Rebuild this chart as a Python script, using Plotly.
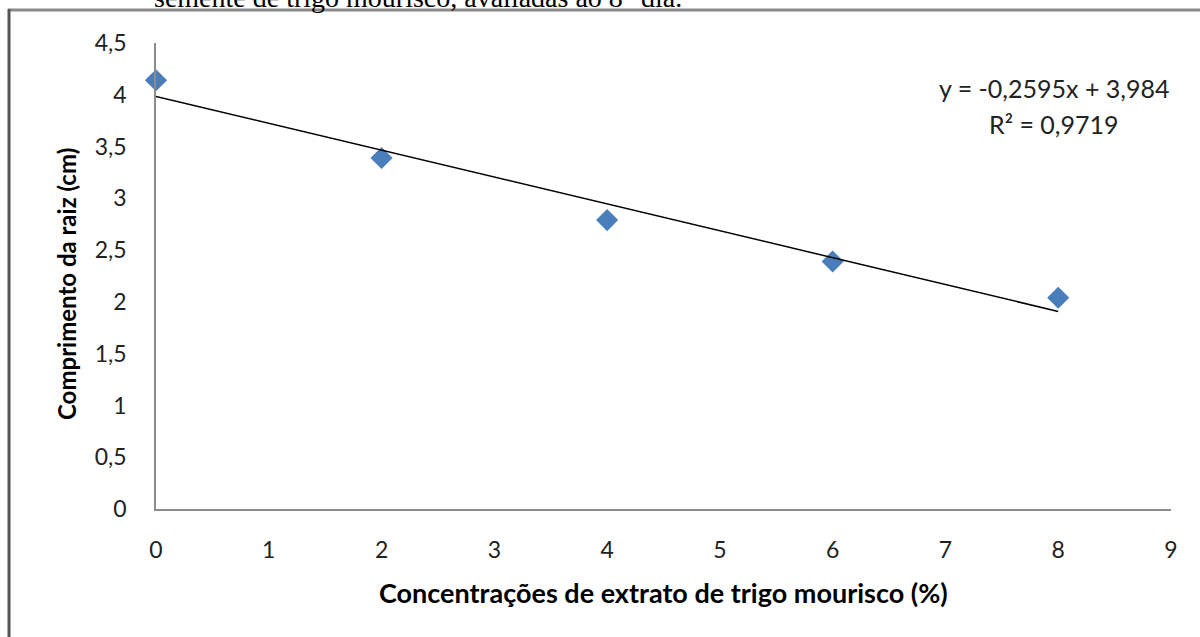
import plotly.graph_objects as go

# Root length measured at each extract concentration
concentracao = [0, 2, 4, 6, 8]
comprimento = [4.14, 3.39, 2.79, 2.39, 2.04]

# Linear fit reported for the series
inclinacao = -0.2595
intercepto = 3.984
r2 = 0.9719

x_ticks = [0, 1, 2, 3, 4, 5, 6, 7, 8, 9]
y_ticks = [0, 0.5, 1, 1.5, 2, 2.5, 3, 3.5, 4, 4.5]
y_tick_text = ["0", "0,5", "1", "1,5", "2", "2,5", "3", "3,5", "4", "4,5"]

W, H = 1200, 637
ML, MR, MT, MB = 156, 29, 43, 128
PW, PH = W - ML - MR, H - MT - MB


def px(x):
    return (x - ML) / PW


def py(y):
    return (H - MB - y) / PH


FONT = "Lato"
fit_x = [concentracao[0], concentracao[-1]]
fit_y = [intercepto + inclinacao * v for v in fit_x]

fig = go.Figure()
fig.add_trace(go.Scatter(
    x=concentracao, y=comprimento, mode="markers",
    marker=dict(symbol="diamond", size=17, color="#4A7EBB",
                line=dict(width=0)),
    showlegend=False, cliponaxis=False,
))
fig.add_trace(go.Scatter(
    x=fit_x, y=fit_y, mode="lines",
    line=dict(color="black", width=1.5),
    showlegend=False, cliponaxis=False,
))

fig.update_layout(
    width=W, height=H,
    margin=dict(l=ML, r=MR, t=MT, b=MB, pad=0),
    plot_bgcolor="white", paper_bgcolor="white",
    font=dict(family=FONT, color="#222222", size=23),
    xaxis=dict(
        range=[0, 9], tickvals=x_ticks, ticktext=[str(v) for v in x_ticks],
        showgrid=False, zeroline=False, showline=True, linecolor="#8c8c8c",
        linewidth=1.5, ticks="", ticklabelstandoff=20,
        tickfont=dict(size=23, family=FONT, color="#222222"),
    ),
    yaxis=dict(
        range=[0, 4.5], tickvals=y_ticks, ticktext=y_tick_text,
        showgrid=False, zeroline=False, showline=True, linecolor="#8c8c8c",
        linewidth=1.5, ticks="", ticklabelstandoff=23,
        tickfont=dict(size=23, family=FONT, color="#222222"),
    ),
    annotations=[
        dict(text="<b>Concentrações de extrato de trigo mourisco (%)</b>",
             xref="paper", yref="paper", x=px(663), y=py(592),
             xanchor="center", yanchor="middle", showarrow=False,
             font=dict(size=27, family=FONT, color="black")),
        dict(text="<b>Comprimento da raiz (cm)</b>",
             xref="paper", yref="paper", x=px(66), y=py(284),
             xanchor="center", yanchor="middle", showarrow=False, textangle=-90,
             font=dict(size=24, family=FONT, color="black")),
        dict(text=f"y = {inclinacao:.4f}x + {intercepto:.3f}".replace(".", ","),
             xref="paper", yref="paper", x=px(1054), y=py(88),
             xanchor="center", yanchor="middle", showarrow=False,
             font=dict(size=25, family=FONT, color="#222222")),
        dict(text=f"R² = {r2:.4f}".replace(".", ","),
             xref="paper", yref="paper", x=px(1054), y=py(124),
             xanchor="center", yanchor="middle", showarrow=False,
             font=dict(size=25, family=FONT, color="#222222")),
        dict(text="semente de trigo mourisco, avaliadas ao 8° dia.",
             xref="paper", yref="paper", x=px(152), y=py(-3),
             xanchor="left", yanchor="middle", showarrow=False,
             font=dict(size=28, family="Liberation Serif", color="black")),
    ],
    shapes=[
        dict(type="line", xref="paper", yref="paper",
             x0=px(8), x1=px(W), y0=py(10), y1=py(10),
             line=dict(color="#8a8a8a", width=3)),
        dict(type="line", xref="paper", yref="paper",
             x0=px(9), x1=px(9), y0=py(9), y1=py(H),
             line=dict(color="#555555", width=3)),
    ],
)

fig.write_html("out.html")
